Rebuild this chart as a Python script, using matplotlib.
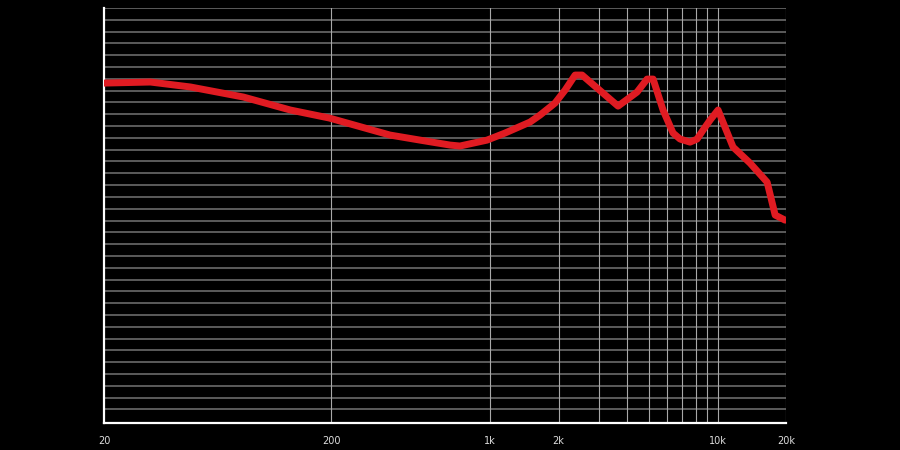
import numpy as np
import matplotlib.pyplot as plt

# frequency response (Hz, relative level)
freq = [20, 32, 48, 82, 132, 196, 362, 491, 666, 736, 968, 1162, 1497, 1656,
        1928, 2135, 2362, 2535, 3650, 4426, 4898, 5206, 5756, 6370, 6840,
        7566, 8128, 8635, 9274, 10050, 11700, 13900, 16520, 17920, 19820]
level = [28.64, 28.73, 28.31, 27.46, 26.36, 25.68, 24.24, 23.81, 23.39, 23.31,
         23.81, 24.41, 25.34, 25.93, 26.95, 28.05, 29.32, 29.32, 26.69, 27.88,
         28.98, 28.98, 26.36, 24.41, 23.9, 23.64, 23.9, 24.66, 25.51, 26.36,
         23.22, 21.86, 20.25, 17.46, 17.03]

major_ticks = [20, 200, 1000, 2000, 10000, 20000]
major_labels = ['20', '200', '1k', '2k', '10k', '20k']
minor_ticks = [3000, 4000, 5000, 6000, 7000, 8000, 9000]
h_lines = np.arange(1, 36)

fig = plt.figure(figsize=(9, 4.5), dpi=100, facecolor='black')
ax = fig.add_axes([104 / 900, 1 - 423 / 450, 682 / 900, 415 / 450])
ax.set_facecolor('black')

for y in h_lines:
    ax.axhline(y, color='#6a6a6a', lw=1.2, zorder=1)
for f in major_ticks[1:] + minor_ticks:
    ax.axvline(f, color='#a8a8a8', lw=0.8, zorder=1)

ax.plot(freq, level, color='#e01b22', lw=5, solid_capstyle='round',
        solid_joinstyle='round', zorder=3)

ax.set_xscale('log')
ax.set_xlim(20, 20000)
ax.set_ylim(-0.15, 35)
ax.set_xticks(major_ticks)
ax.set_xticklabels(major_labels)
ax.set_xticks([], minor=True)
ax.set_yticks([])
ax.tick_params(axis='x', length=0, pad=9, labelsize=7, labelcolor='#dddddd')

for side in ['top', 'right']:
    ax.spines[side].set_visible(False)
for side in ['left', 'bottom']:
    ax.spines[side].set_color('white')
    ax.spines[side].set_linewidth(1.6)

plt.savefig('out.png', dpi=100, facecolor='black')
